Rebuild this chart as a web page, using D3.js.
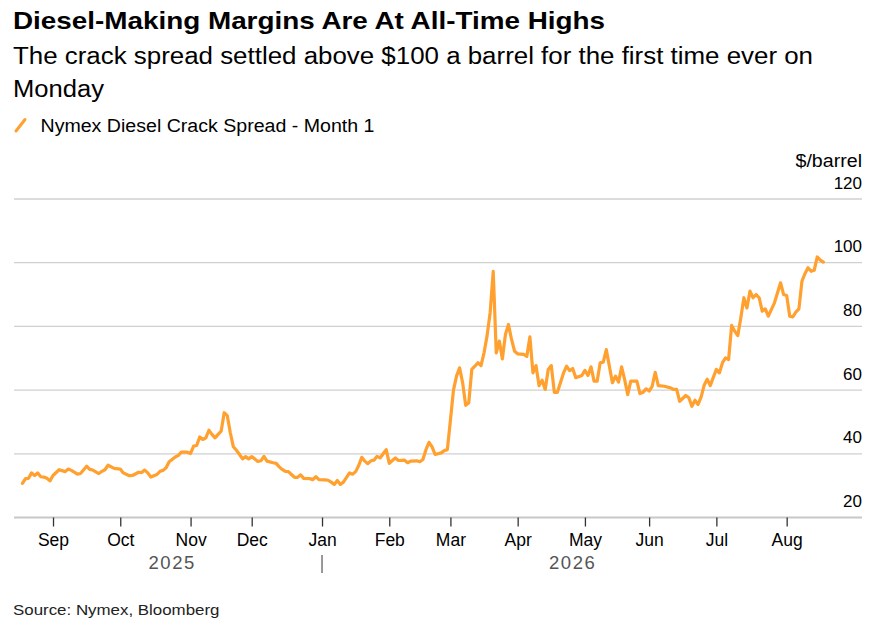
<!DOCTYPE html>
<html><head><meta charset="utf-8">
<script src="https://cdn.jsdelivr.net/npm/d3@7/dist/d3.min.js"></script>
<style>
body{margin:0;background:#fff}
svg{display:block}
text{font-family:"Liberation Sans",Arial,Helvetica,sans-serif}
</style>
</head><body>
<svg id="chart" width="884" height="625"></svg>
<script>
// ---- data ----
const dates = [
"2025-08-18","2025-08-19","2025-08-20","2025-08-21","2025-08-22","2025-08-25","2025-08-26","2025-08-27","2025-08-28","2025-08-29",
"2025-09-01","2025-09-03","2025-09-05","2025-09-08","2025-09-09","2025-09-11","2025-09-12","2025-09-16","2025-09-17","2025-09-18",
"2025-09-22","2025-09-23","2025-09-24","2025-09-25","2025-09-29","2025-10-01","2025-10-02","2025-10-06","2025-10-07","2025-10-09",
"2025-10-10","2025-10-13","2025-10-14","2025-10-15","2025-10-17","2025-10-20","2025-10-21","2025-10-22","2025-10-23","2025-10-27",
"2025-10-28","2025-10-29","2025-10-31","2025-11-03","2025-11-04","2025-11-05","2025-11-06","2025-11-07","2025-11-10","2025-11-11",
"2025-11-12","2025-11-13","2025-11-14","2025-11-17","2025-11-18","2025-11-19","2025-11-20","2025-11-21","2025-11-24","2025-11-25",
"2025-11-26","2025-11-27","2025-11-28","2025-12-01","2025-12-02","2025-12-03","2025-12-04","2025-12-05","2025-12-08","2025-12-10",
"2025-12-11","2025-12-12","2025-12-15","2025-12-16","2025-12-17","2025-12-18","2025-12-19","2025-12-22","2025-12-23","2025-12-24",
"2025-12-26","2025-12-29","2025-12-30","2025-12-31","2026-01-02","2026-01-05","2026-01-06","2026-01-07","2026-01-08","2026-01-09",
"2026-01-12","2026-01-14","2026-01-15","2026-01-16","2026-01-19","2026-01-20","2026-01-21","2026-01-22","2026-01-23","2026-01-26",
"2026-01-27","2026-01-28","2026-01-29","2026-01-30","2026-02-02","2026-02-03","2026-02-04","2026-02-05","2026-02-09","2026-02-10",
"2026-02-11","2026-02-13","2026-02-16","2026-02-17","2026-02-18","2026-02-19","2026-02-20","2026-02-23","2026-02-25","2026-02-26",
"2026-02-27","2026-03-02","2026-03-03","2026-03-04","2026-03-05","2026-03-06","2026-03-09","2026-03-10","2026-03-11","2026-03-12",
"2026-03-13","2026-03-16","2026-03-17","2026-03-18","2026-03-19","2026-03-20","2026-03-23","2026-03-24","2026-03-25","2026-03-26",
"2026-03-27","2026-03-30","2026-03-31","2026-04-01","2026-04-03","2026-04-06","2026-04-07","2026-04-08","2026-04-09","2026-04-10",
"2026-04-13","2026-04-14","2026-04-15","2026-04-16","2026-04-17","2026-04-20","2026-04-22","2026-04-23","2026-04-24","2026-04-27",
"2026-04-28","2026-04-30","2026-05-01","2026-05-04","2026-05-05","2026-05-06","2026-05-07","2026-05-08","2026-05-11","2026-05-12",
"2026-05-13","2026-05-14","2026-05-15","2026-05-18","2026-05-19","2026-05-20","2026-05-21","2026-05-22","2026-05-26","2026-05-27",
"2026-05-28","2026-05-29","2026-06-01","2026-06-02","2026-06-03","2026-06-04","2026-06-08","2026-06-10","2026-06-11","2026-06-12",
"2026-06-15","2026-06-17","2026-06-18","2026-06-19","2026-06-22","2026-06-23","2026-06-24","2026-06-25","2026-06-26","2026-06-29",
"2026-06-30","2026-07-01","2026-07-02","2026-07-03","2026-07-06","2026-07-07","2026-07-08","2026-07-09","2026-07-10","2026-07-13",
"2026-07-14","2026-07-15","2026-07-16","2026-07-17","2026-07-20","2026-07-21","2026-07-22","2026-07-23","2026-07-24","2026-07-28",
"2026-07-30","2026-07-31","2026-08-03","2026-08-04","2026-08-05","2026-08-06","2026-08-07","2026-08-10","2026-08-11","2026-08-12",
"2026-08-13","2026-08-14","2026-08-17","2026-08-18","2026-08-19"
];
const crackSpread = [
30.7,32.2,32.3,34.0,33.2,34.0,32.8,32.7,32.3,31.5,
33.2,35.0,34.4,35.2,34.8,33.6,33.8,36.1,35.1,34.9,
33.8,34.5,35.0,36.4,35.4,35.2,34.0,33.1,33.2,34.2,
34.1,34.9,34.0,32.7,33.5,34.5,34.8,35.6,37.5,39.0,
39.5,40.5,40.5,40.1,42.4,42.6,45.3,44.5,45.0,47.4,
46.1,45.0,46.1,47.1,52.9,52.0,46.6,42.2,41.1,39.8,
38.4,39.1,38.4,39.1,38.4,37.6,37.8,39.2,37.7,37.2,
37.0,35.9,35.1,34.5,34.4,33.5,32.6,32.6,33.4,32.3,
32.2,31.9,32.8,31.9,31.8,31.7,31.1,30.4,31.6,30.4,
31.1,34.0,33.6,34.4,36.3,38.9,37.7,36.9,37.8,38.0,
39.2,38.7,40.0,41.3,37.0,37.9,38.7,37.9,38.0,37.2,
37.7,37.8,37.5,38.2,41.3,43.6,42.2,39.8,40.3,41.0,
41.3,50.5,60.0,64.4,67.0,62.3,55.2,56.0,66.5,67.5,
68.6,67.7,71.7,77.1,84.3,97.3,71.7,75.4,69.8,77.5,
80.6,75.9,72.2,71.4,71.2,70.6,76.7,65.4,67.7,61.4,
63.1,60.2,66.5,67.7,59.3,59.3,65.4,67.5,66.1,66.8,
63.9,64.6,66.2,64.6,67.3,62.8,62.8,68.6,68.8,72.7,
67.5,62.3,64.4,62.5,67.3,63.3,58.6,62.8,62.8,58.9,
59.3,60.4,59.7,61.2,65.6,61.4,61.2,60.7,60.2,60.2,
56.5,58.3,57.6,54.9,56.8,55.5,57.8,61.5,63.4,61.4,
64.0,66.5,65.4,68.6,70.1,69.6,80.3,78.5,77.1,82.7,
89.0,85.8,91.1,89.0,90.0,89.0,84.8,85.5,83.2,87.4,
93.7,90.0,89.7,83.2,83.0,84.5,85.5,94.2,96.6,98.4,
97.3,97.6,101.8,100.8,100.2
];
const yTicks = [20, 40, 60, 80, 100, 120];
const monthStarts = ["2025-09-01","2025-10-01","2025-11-01","2025-12-01","2026-01-01","2026-02-01",
                     "2026-03-01","2026-04-01","2026-05-01","2026-06-01","2026-07-01","2026-08-01"];
const monthLabels = ["Sep","Oct","Nov","Dec","Jan","Feb","Mar","Apr","May","Jun","Jul","Aug"];
const yearLabels = ["2025","2026"];
const yearBoundary = "2026-01-01";
const titleText = "Diesel-Making Margins Are At All-Time Highs";
const subtitleLines = ["The crack spread settled above $100 a barrel for the first time ever on", "Monday"];
const legendText = "Nymex Diesel Crack Spread - Month 1";
const unitText = "$/barrel";
const sourceText = "Source: Nymex, Bloomberg";

// ---- setup ----
const parse = d3.timeParse("%Y-%m-%d");
const origin = parse(dates[0]);
// trading-day (weekday) index: the axis skips weekends
function biz(d) {
  return d3.timeDay.range(origin, d).filter(t => t.getDay() % 6 !== 0).length;
}
const data = dates.map((s, i) => ({ i: biz(parse(s)), v: crackSpread[i] }));

const svg = d3.select("#chart");
const plot = { left: 14, right: 862, top: 199, bottom: 517.5 };
const ORANGE = "#ffa02f";

const x = d3.scaleLinear().domain([-2.76, 274.64]).range([plot.left, plot.right]);
const y = d3.scaleLinear().domain([20, 120]).range([plot.bottom, plot.top]);

// fit a text element to a measured width in the reference
function fit(sel, w) {
  sel.attr("textLength", w).attr("lengthAdjust", "spacingAndGlyphs");
  return sel;
}

// ---- header ----
fit(svg.append("text").attr("x", 13).attr("y", 28.5)
  .attr("font-size", 24).attr("font-weight", 700).attr("fill", "#000")
  .text(titleText), 592);
const subW = [800, 91];
subtitleLines.forEach((t, k) => {
  fit(svg.append("text").attr("x", 13).attr("y", 64 + k * 33)
    .attr("font-size", 23.5).attr("fill", "#000")
    .text(t), subW[k]);
});
// legend
svg.append("line").attr("x1", 16).attr("y1", 131).attr("x2", 25).attr("y2", 119.5)
  .attr("stroke", ORANGE).attr("stroke-width", 3).attr("stroke-linecap", "round");
fit(svg.append("text").attr("x", 40.5).attr("y", 132)
  .attr("font-size", 18).attr("fill", "#000")
  .text(legendText), 334);

// ---- grid & y axis ----
svg.append("g").selectAll("line").data(yTicks.filter(t => t !== 20)).join("line")
  .attr("x1", plot.left).attr("x2", plot.right)
  .attr("y1", d => y(d)).attr("y2", d => y(d))
  .attr("stroke", "#d0d0d0").attr("stroke-width", 1.3);
svg.append("g").selectAll("text").data(yTicks).join("text")
  .attr("x", plot.right).attr("y", d => y(d) - 10.5)
  .attr("text-anchor", "end").attr("font-size", 17).attr("fill", "#000")
  .text(d => d);
fit(svg.append("text").attr("x", plot.right - 66.5).attr("y", 166.5)
  .attr("font-size", 17.5).attr("fill", "#000")
  .text(unitText), 66.5);

// ---- x axis ----
svg.append("line").attr("x1", plot.left).attr("x2", plot.right)
  .attr("y1", plot.bottom).attr("y2", plot.bottom)
  .attr("stroke", "#c8c8c8").attr("stroke-width", 1.8);
const tickIdx = monthStarts.map(s => biz(parse(s)));
const xAxis = d3.axisBottom(x).tickValues(tickIdx).tickSize(9).tickPadding(7)
  .tickFormat((d, k) => monthLabels[k]);
const gx = svg.append("g").attr("transform", `translate(0,${plot.bottom})`).call(xAxis);
gx.select(".domain").remove();
gx.selectAll(".tick line").attr("stroke", "#333").attr("stroke-width", 1.3);
gx.selectAll(".tick text").attr("font-size", 17.5).attr("fill", "#000")
  .attr("font-family", '"Liberation Sans",Arial,sans-serif');

// years
const xFirst = x(data[0].i), xLast = x(data[data.length - 1].i), xJan = x(biz(parse(yearBoundary)));
svg.append("line").attr("x1", xJan).attr("x2", xJan).attr("y1", 555).attr("y2", 573)
  .attr("stroke", "#555").attr("stroke-width", 1.2);
[[yearLabels[0], (xFirst + xJan) / 2], [yearLabels[1], (xJan + xLast) / 2]].forEach(([t, cx]) => {
  svg.append("text").attr("x", cx).attr("y", 569).attr("text-anchor", "middle")
    .attr("font-size", 18.5).attr("fill", "#555").attr("letter-spacing", 1.6).text(t);
});

// ---- line ----
const line = d3.line().x(d => x(d.i)).y(d => y(d.v));
svg.append("path").datum(data)
  .attr("fill", "none").attr("stroke", ORANGE).attr("stroke-width", 3.2)
  .attr("stroke-linejoin", "round").attr("stroke-linecap", "round")
  .attr("d", line);

// ---- source ----
fit(svg.append("text").attr("x", 13).attr("y", 615)
  .attr("font-size", 15.5).attr("fill", "#222")
  .text(sourceText), 206.5);
</script>
</body></html>
